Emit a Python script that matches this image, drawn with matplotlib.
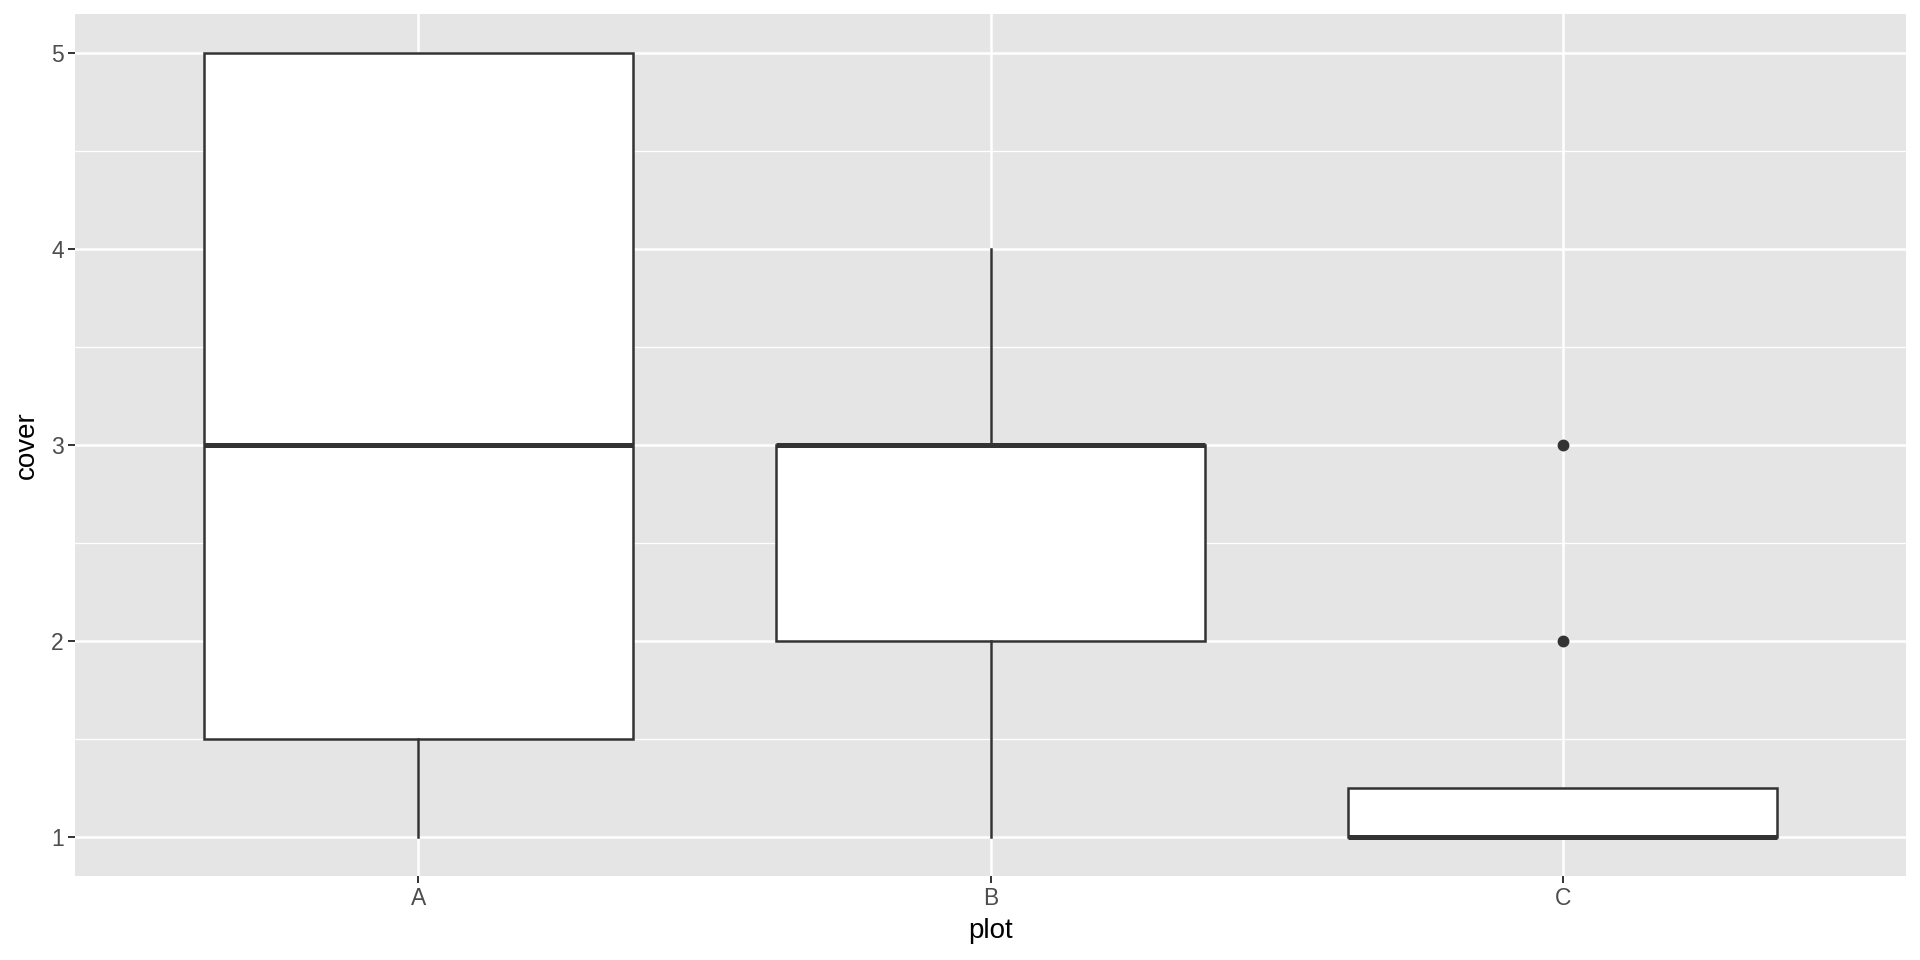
import matplotlib.pyplot as plt
import matplotlib.ticker as ticker

# boxplot stats per plot (ggplot-style)
plots = ["A", "B", "C"]
whislo = [1, 1, 1]
q1 = [1.5, 2, 1]
med = [3, 3, 1]
q3 = [5, 3, 1.25]
whishi = [5, 4, 1.25]
fliers = [[], [], [2, 3]]

plt.rcParams["font.family"] = ["Liberation Sans", "DejaVu Sans"]

fig = plt.figure(figsize=(19.2, 9.6), dpi=100)
ax = fig.add_axes([75/1920, 84/960, 1831/1920, 862/960])
ax.set_facecolor("#E5E5E5")

stats = []
for i in range(len(plots)):
    stats.append({"label": plots[i], "whislo": whislo[i], "q1": q1[i], "med": med[i],
                  "q3": q3[i], "whishi": whishi[i], "fliers": fliers[i]})

ax.bxp(stats, positions=[1, 2, 3], widths=0.75, patch_artist=True, showcaps=False,
       boxprops=dict(facecolor="white", edgecolor="#333333", linewidth=1.8),
       whiskerprops=dict(color="#333333", linewidth=1.8),
       medianprops=dict(color="#333333", linewidth=3.6, solid_capstyle="butt"),
       flierprops=dict(marker="o", markerfacecolor="#333333", markeredgecolor="#333333", markersize=7.5))

ax.set_xlim(0.4, 3.6)
ax.set_ylim(0.8, 5.2)
ax.set_yticks([1, 2, 3, 4, 5])
ax.yaxis.set_minor_locator(ticker.FixedLocator([1.5, 2.5, 3.5, 4.5]))
ax.set_xticks([1, 2, 3])
ax.set_xticklabels(plots)

ax.set_axisbelow(True)
ax.grid(True, which="major", color="white", linewidth=1.8)
ax.grid(True, which="minor", axis="y", color="white", linewidth=0.9)
for s in ax.spines.values():
    s.set_visible(False)

ax.tick_params(which="major", length=5, width=1.4, color="#333333", pad=3,
               labelsize=16.5, labelcolor="#4D4D4D")
ax.tick_params(which="minor", length=0)

ax.set_xlabel("plot", fontsize=20, labelpad=6)
ax.set_ylabel("cover", fontsize=20, labelpad=8)

fig.savefig("out.png", dpi=100)
